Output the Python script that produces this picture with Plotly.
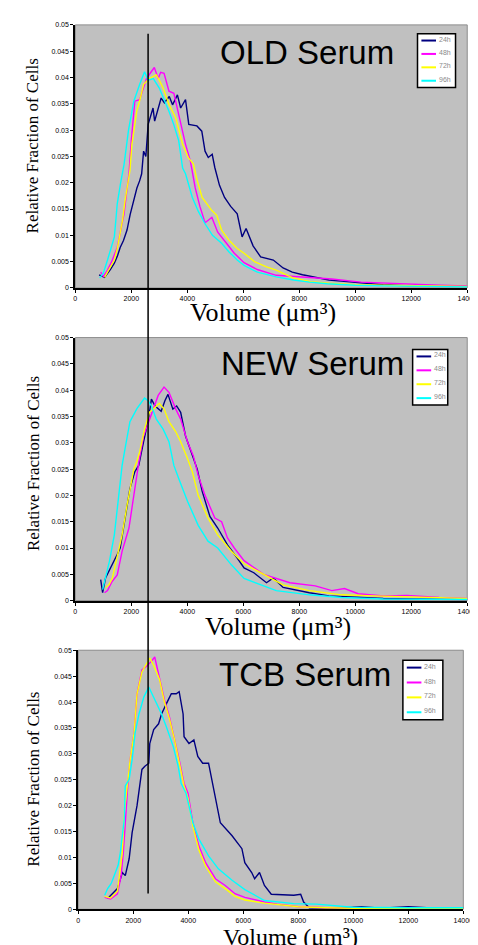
import plotly.graph_objects as go

# ---------------- data ----------------
series_names = ["24h", "48h", "72h", "96h"]
series_colors = ["#000080", "#FF00FF", "#FFFF00", "#00FFFF"]
panel_titles = ["OLD Serum", "NEW Serum", "TCB Serum"]
x_ticks = [0, 2000, 4000, 6000, 8000, 10000, 12000, 14000]
y_ticks = [0, 0.005, 0.01, 0.015, 0.02, 0.025, 0.03, 0.035, 0.04, 0.045, 0.05]
marker_volume = 2600

# OLD serum
old_24h_x = [850, 1045, 1250, 1394, 1500, 1603, 1720, 1847, 1960, 2090, 2200, 2300, 2370, 2439, 2520, 2602, 2700, 2776, 2834, 2950, 3066, 3182, 3356, 3473, 3647, 3763, 3937, 4053, 4344, 4518, 4634, 4750, 4890, 4983, 5150, 5331, 5550, 5784, 5958, 6100, 6350, 6620, 7073, 7422, 7750, 8118, 8600, 9059, 9700, 10313, 11000, 12000, 13000, 14000]
old_24h_y = [0.0025, 0.002, 0.0035, 0.0047, 0.006, 0.0077, 0.009, 0.011, 0.014, 0.0166, 0.019, 0.0204, 0.0217, 0.026, 0.025, 0.0311, 0.033, 0.0342, 0.0317, 0.034, 0.0361, 0.0352, 0.0364, 0.0348, 0.0367, 0.0342, 0.0358, 0.0311, 0.0308, 0.0298, 0.026, 0.0248, 0.0254, 0.0229, 0.0195, 0.0172, 0.0155, 0.0141, 0.0097, 0.0113, 0.008, 0.0059, 0.0053, 0.0038, 0.003, 0.0025, 0.002, 0.0015, 0.0012, 0.0009, 0.0006, 0.0004, 0.0003, 0.0003]
old_48h_x = [906, 1000, 1150, 1300, 1498, 1620, 1742, 1830, 1916, 2000, 2125, 2300, 2420, 2543, 2700, 2822, 2960, 3050, 3170, 3345, 3520, 3693, 3937, 4111, 4285, 4450, 4634, 4878, 5087, 5400, 5679, 6028, 6500, 7178, 8223, 9164, 10209, 11000, 12000, 13000, 14000]
old_48h_y = [0.003, 0.0022, 0.0034, 0.005, 0.0077, 0.011, 0.0141, 0.018, 0.0217, 0.028, 0.0355, 0.0358, 0.038, 0.0398, 0.041, 0.0419, 0.0398, 0.041, 0.0408, 0.0374, 0.037, 0.033, 0.0273, 0.0241, 0.019, 0.0155, 0.0124, 0.0134, 0.0106, 0.0085, 0.0066, 0.0048, 0.0035, 0.0024, 0.002, 0.0017, 0.0011, 0.0009, 0.0007, 0.0005, 0.0004]
old_72h_x = [1045, 1200, 1394, 1500, 1603, 1690, 1777, 1860, 1951, 2021, 2195, 2320, 2439, 2648, 2892, 3000, 3136, 3345, 3589, 3833, 4042, 4216, 4355, 4530, 4878, 5052, 5226, 5500, 5784, 6028, 6400, 6829, 7178, 7770, 8400, 9059, 10000, 11000, 12000, 13000, 14000]
old_72h_y = [0.002, 0.0035, 0.0053, 0.0075, 0.0104, 0.013, 0.0166, 0.0195, 0.0223, 0.0273, 0.0336, 0.036, 0.0387, 0.0398, 0.0405, 0.0395, 0.038, 0.0349, 0.0323, 0.0273, 0.0247, 0.0236, 0.0204, 0.0172, 0.0147, 0.0138, 0.011, 0.009, 0.0075, 0.0066, 0.005, 0.004, 0.0034, 0.0019, 0.0012, 0.0009, 0.0006, 0.0005, 0.0004, 0.0003, 0.0003]
old_96h_x = [870, 1000, 1150, 1280, 1394, 1450, 1498, 1620, 1742, 1900, 2090, 2300, 2474, 2600, 2787, 3000, 3170, 3345, 3520, 3693, 3833, 3937, 4180, 4400, 4634, 4900, 5226, 5500, 5784, 6028, 6500, 7178, 7800, 8362, 9000, 10000, 11000, 12000, 13000, 14000]
old_96h_y = [0.0019, 0.0028, 0.0053, 0.0075, 0.0097, 0.013, 0.016, 0.02, 0.0235, 0.03, 0.0355, 0.0387, 0.0411, 0.0395, 0.0398, 0.038, 0.036, 0.0336, 0.031, 0.028, 0.0228, 0.0217, 0.0172, 0.0145, 0.0122, 0.01, 0.0085, 0.0068, 0.0053, 0.0043, 0.003, 0.0021, 0.0015, 0.0011, 0.0008, 0.0005, 0.0004, 0.0003, 0.0002, 0.0002]

# NEW serum
new_24h_x = [906, 976, 1080, 1250, 1394, 1500, 1603, 1690, 1777, 1860, 1951, 2125, 2265, 2439, 2613, 2718, 2850, 3066, 3200, 3310, 3484, 3620, 3763, 3937, 4180, 4355, 4530, 4808, 5087, 5435, 5784, 6028, 6376, 6829, 7073, 7422, 8362, 9059, 9860, 11000, 12000, 13000, 14000]
new_24h_y = [0.004, 0.0015, 0.0043, 0.006, 0.0075, 0.0088, 0.01, 0.013, 0.0157, 0.0185, 0.0213, 0.0245, 0.0257, 0.0302, 0.0345, 0.0383, 0.037, 0.036, 0.038, 0.0392, 0.0364, 0.037, 0.0358, 0.0313, 0.0275, 0.025, 0.0208, 0.016, 0.0138, 0.0106, 0.0081, 0.0062, 0.0053, 0.0034, 0.0043, 0.0025, 0.0015, 0.0009, 0.0007, 0.0004, 0.0003, 0.0003, 0.0002]
new_48h_x = [1045, 1150, 1300, 1498, 1672, 1800, 1916, 2090, 2265, 2439, 2648, 2822, 2960, 3170, 3345, 3589, 3763, 4007, 4216, 4390, 4634, 4983, 5226, 5435, 5679, 6028, 6725, 7665, 8571, 9164, 9616, 10104, 11010, 11846, 13000, 14000]
new_48h_y = [0.0015, 0.0019, 0.0035, 0.0049, 0.0094, 0.0115, 0.0138, 0.02, 0.0262, 0.0313, 0.0345, 0.037, 0.039, 0.0406, 0.0396, 0.0364, 0.0345, 0.0302, 0.0275, 0.0238, 0.02, 0.0157, 0.015, 0.0119, 0.01, 0.0076, 0.005, 0.0034, 0.0028, 0.0019, 0.0023, 0.0013, 0.0009, 0.001, 0.0006, 0.0004]
new_72h_x = [1080, 1200, 1324, 1498, 1672, 1847, 1970, 2090, 2200, 2300, 2474, 2648, 2787, 3000, 3170, 3345, 3589, 3763, 4007, 4180, 4390, 4739, 5087, 5575, 6028, 6725, 7422, 8362, 9512, 10660, 12400, 14000]
new_72h_y = [0.0025, 0.003, 0.0043, 0.0087, 0.0125, 0.0181, 0.022, 0.025, 0.0265, 0.0283, 0.0326, 0.0358, 0.0364, 0.0375, 0.0364, 0.034, 0.0321, 0.0302, 0.027, 0.0245, 0.02, 0.0157, 0.0125, 0.0094, 0.007, 0.005, 0.003, 0.0019, 0.0011, 0.0009, 0.0006, 0.0004]
new_96h_x = [976, 1080, 1220, 1394, 1498, 1600, 1672, 1777, 1951, 2200, 2474, 2600, 2718, 2892, 3136, 3345, 3520, 3693, 4007, 4390, 4739, 5087, 5575, 6028, 6600, 7178, 8362, 9512, 11000, 12500, 14000]
new_96h_y = [0.0021, 0.0043, 0.0075, 0.0125, 0.0175, 0.022, 0.0257, 0.0289, 0.034, 0.0365, 0.0385, 0.038, 0.037, 0.0345, 0.0326, 0.0302, 0.0257, 0.0232, 0.0189, 0.0143, 0.0113, 0.01, 0.0068, 0.0042, 0.003, 0.0019, 0.0011, 0.0006, 0.0003, 0.0003, 0.0002]

# TCB serum
tcb_24h_x = [1069, 1250, 1425, 1603, 1710, 1852, 1959, 2137, 2244, 2316, 2422, 2565, 2600, 2743, 2921, 3028, 3206, 3384, 3562, 3669, 3812, 3847, 4026, 4204, 4346, 4524, 4738, 4881, 4988, 5166, 5593, 5950, 6056, 6306, 6413, 6591, 6769, 7018, 7837, 8087, 8194, 8400, 9500, 10300, 11000, 12000, 13000, 14000]
tcb_24h_y = [0.0021, 0.003, 0.004, 0.0071, 0.0065, 0.0098, 0.0148, 0.02, 0.0238, 0.027, 0.0276, 0.0282, 0.032, 0.0347, 0.0358, 0.0377, 0.0397, 0.0416, 0.0416, 0.042, 0.0377, 0.0333, 0.032, 0.0327, 0.0295, 0.0282, 0.0282, 0.0243, 0.0218, 0.0167, 0.0142, 0.0117, 0.009, 0.0071, 0.0059, 0.0071, 0.0046, 0.0029, 0.0027, 0.0029, 0.0014, 0.0003, 0.0002, 0.0005, 0.0002, 0.0005, 0.0002, 0.0003]
tcb_48h_x = [962, 1176, 1425, 1560, 1640, 1720, 1800, 1888, 2030, 2137, 2316, 2500, 2650, 2780, 2957, 3135, 3313, 3491, 3669, 3847, 3990, 4168, 4382, 4631, 4988, 5344, 5700, 6056, 6769, 7230, 8000, 9000, 10000, 12000, 14000]
tcb_48h_y = [0.0023, 0.002, 0.003, 0.0065, 0.011, 0.0186, 0.0238, 0.0289, 0.034, 0.0416, 0.0462, 0.047, 0.0478, 0.0487, 0.0448, 0.0404, 0.0372, 0.0333, 0.0289, 0.0243, 0.0224, 0.0167, 0.0123, 0.009, 0.0059, 0.0046, 0.003, 0.0023, 0.0014, 0.001, 0.0005, 0.0003, 0.0002, 0.0002, 0.0002]
tcb_72h_x = [962, 1176, 1425, 1532, 1603, 1674, 1781, 1888, 2030, 2137, 2316, 2450, 2600, 2750, 2957, 3135, 3313, 3491, 3669, 3847, 3990, 4168, 4382, 4631, 4988, 5344, 5700, 6056, 6769, 7230, 8000, 9000, 10000, 12000, 14000]
tcb_72h_y = [0.0025, 0.0022, 0.0035, 0.0075, 0.011, 0.0186, 0.0243, 0.0289, 0.034, 0.0416, 0.0458, 0.047, 0.0485, 0.047, 0.0443, 0.04, 0.0368, 0.033, 0.0285, 0.0238, 0.0215, 0.016, 0.0115, 0.0083, 0.0053, 0.004, 0.0025, 0.0018, 0.0012, 0.0009, 0.0005, 0.0003, 0.0002, 0.0002, 0.0002]
tcb_96h_x = [962, 1069, 1200, 1318, 1450, 1532, 1600, 1674, 1710, 1852, 1959, 2066, 2209, 2387, 2565, 2780, 3028, 3206, 3456, 3634, 3740, 3919, 4168, 4382, 4738, 5094, 5593, 6056, 6769, 7837, 8657, 9975, 11000, 12000, 14000]
tcb_96h_y = [0.0027, 0.004, 0.005, 0.0065, 0.0085, 0.011, 0.014, 0.0174, 0.0238, 0.0251, 0.0289, 0.034, 0.0377, 0.041, 0.0429, 0.0404, 0.0377, 0.0352, 0.0314, 0.0276, 0.0243, 0.0224, 0.0167, 0.0136, 0.0103, 0.0078, 0.0056, 0.0038, 0.0017, 0.0011, 0.001, 0.0004, 0.0003, 0.0003, 0.0003]

panels = [
    [(old_24h_x, old_24h_y), (old_48h_x, old_48h_y), (old_72h_x, old_72h_y), (old_96h_x, old_96h_y)],
    [(new_24h_x, new_24h_y), (new_48h_x, new_48h_y), (new_72h_x, new_72h_y), (new_96h_x, new_96h_y)],
    [(tcb_24h_x, tcb_24h_y), (tcb_48h_x, tcb_48h_y), (tcb_72h_x, tcb_72h_y), (tcb_96h_x, tcb_96h_y)],
]

# ---------------- layout geometry (pixels) ----------------
W, H = 478, 945
plot_px = [  # left, right, top, bottom
    (67, 469, 13, 278),
    (67, 469, 328, 593),
    (70, 465, 643, 904),
]
legend_box_px = [  # left, right, top, bottom
    (418, 457, 22, 76),
    (413, 449, 340, 396),
    (403, 444, 653, 713),
]
title_px = [(305, 41), (310, 354), (303, 667)]
ylab_px = [(24, 135), (24, 455), (24, 773)]
xlab_px = [(260, 303), (275, 619), (288, 932)]
xlab_size = [26, 26, 24]
vline_px = (22, 888)

def px_x(p):
    return p / W

def px_y(p):
    return 1 - p / H

fig = go.Figure()
for pi, panel in enumerate(panels):
    for si, (xs, ys) in enumerate(panel):
        fig.add_trace(go.Scatter(
            x=xs, y=ys, mode="lines", name=series_names[si],
            line=dict(color=series_colors[si], width=1.4),
            xaxis="x" if pi == 0 else f"x{pi+1}",
            yaxis="y" if pi == 0 else f"y{pi+1}",
            showlegend=False,
        ))

layout = dict(
    width=W, height=H,
    margin=dict(l=0, r=0, t=0, b=0),
    paper_bgcolor="white",
    plot_bgcolor="#C0C0C0",
    font=dict(family="Arial, Liberation Sans", color="black"),
    showlegend=False,
)

annotations = []
shapes = []
for pi in range(3):
    l, r, t, b = plot_px[pi]
    xk = "xaxis" if pi == 0 else f"xaxis{pi+1}"
    yk = "yaxis" if pi == 0 else f"yaxis{pi+1}"
    xid = "x" if pi == 0 else f"x{pi+1}"
    yid = "y" if pi == 0 else f"y{pi+1}"
    layout[xk] = dict(
        domain=[px_x(l), px_x(r)], anchor=yid, range=[0, 14000],
        tickvals=x_ticks, ticktext=[str(v) for v in x_ticks],
        ticks="outside", ticklen=3, tickcolor="black", tickwidth=1,
        showline=True, linecolor="black", linewidth=2,
        showgrid=False, zeroline=False,
        tickfont=dict(size=7, family="Arial", color="black"),
        fixedrange=True,
    )
    layout[yk] = dict(
        domain=[px_y(b), px_y(t)], anchor=xid, range=[0, 0.05],
        tickvals=y_ticks, ticktext=[("%g" % v) for v in y_ticks],
        ticks="outside", ticklen=3, tickcolor="black", tickwidth=1,
        showline=True, linecolor="black", linewidth=2,
        showgrid=False, zeroline=False,
        tickfont=dict(size=7, family="Arial", color="black"),
        fixedrange=True,
    )
    # plot-area border (grey top/right)
    shapes.append(dict(type="rect", xref=f"{xid} domain", yref=f"{yid} domain",
                       x0=0, x1=1, y0=0, y1=1, line=dict(color="#8C8C8C", width=1),
                       layer="below"))
    # legend box (drawn: one small boxed key per panel)
    bl, br, bt, bb = legend_box_px[pi]
    shapes.append(dict(type="rect", xref="paper", yref="paper",
                       x0=px_x(bl), x1=px_x(br), y0=px_y(bb), y1=px_y(bt),
                       line=dict(color="black", width=1.5), fillcolor="white",
                       layer="above"))
    step = (bb - bt) / 4.0
    for si, name in enumerate(series_names):
        cy = bt + step * (si + 0.5)
        shapes.append(dict(type="line", xref="paper", yref="paper",
                           x0=px_x(bl + 4), x1=px_x(bl + 19), y0=px_y(cy), y1=px_y(cy),
                           line=dict(color=series_colors[si], width=2), layer="above"))
        annotations.append(dict(text=name, x=px_x(bl + 20), y=px_y(cy - 1.5),
                                xref="paper", yref="paper", showarrow=False,
                                xanchor="left", yanchor="middle",
                                font=dict(size=7, family="Arial", color="#8A8A8A")))
    tx, ty = title_px[pi]
    annotations.append(dict(text=panel_titles[pi], x=px_x(tx), y=px_y(ty),
                            xref="paper", yref="paper", showarrow=False,
                            xanchor="center", yanchor="middle",
                            font=dict(size=33, family="Arial, Liberation Sans", color="black")))
    yx, yy = ylab_px[pi]
    annotations.append(dict(text="Relative Fraction of Cells", x=px_x(yx), y=px_y(yy),
                            xref="paper", yref="paper", showarrow=False, textangle=-90,
                            xanchor="center", yanchor="middle",
                            font=dict(size=17, family="Liberation Serif, Times New Roman", color="black")))
    vx, vy = xlab_px[pi]
    annotations.append(dict(text="Volume (\u03bcm\u00b3)", x=px_x(vx), y=px_y(vy),
                            xref="paper", yref="paper", showarrow=False,
                            xanchor="center", yanchor="middle", borderpad=0,
                            font=dict(size=xlab_size[pi], family="Liberation Serif, Times New Roman", color="black")))

shapes.append(dict(type="line", xref="x", yref="paper", x0=marker_volume, x1=marker_volume,
                   y0=px_y(vline_px[1]), y1=px_y(vline_px[0]),
                   line=dict(color="black", width=1.5), layer="above"))

layout["annotations"] = annotations
layout["shapes"] = shapes
fig.update_layout(**layout)

fig.write_html("out.html")
